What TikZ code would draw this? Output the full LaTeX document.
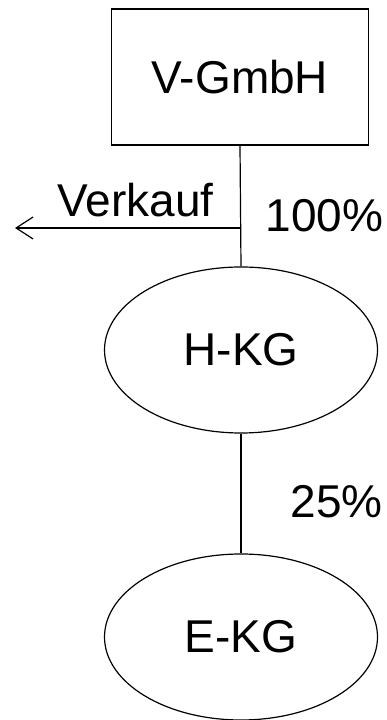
\documentclass[tikz,border=0pt]{standalone}
\usepackage{fontspec}
\setmainfont{Liberation Sans}
\usetikzlibrary{arrows.meta, shapes.geometric}

\begin{document}
\begin{tikzpicture}[x=1pt, y=1pt, line width=1.2pt, font=\fontsize{46}{50}\selectfont,
    firm/.style={draw, rectangle, minimum width=257pt, minimum height=136pt, inner sep=0pt},
    kg/.style={draw, ellipse, minimum width=273pt, minimum height=166pt, inner sep=0pt},
    pct/.style={anchor=base west, inner sep=0pt}]

    % 1. Rahmen
    \useasboundingbox (0,0) rectangle (387,720);

    % 2. Gesellschaften
    \node[firm] (vgmbh) at (240,643) {V-GmbH};
    \node[kg]   (hkg)   at (241,370) {H-KG};
    \node[kg]   (ekg)   at (241,83)  {E-KG};

    % 3. Beteiligungen
    \draw (vgmbh.south) -- (hkg.north);
    \draw (hkg.south) -- (ekg.north);
    \node[pct] (p100) at (265,488) {100\%};
    \node[pct] (p25)  at (290,202) {25\%};

    % 4. Verkauf der Beteiligung
    \coordinate (abzweig) at (vgmbh.south |- 0,492);
    \coordinate (links)   at (15,492);
    \draw[-{Straight Barb[length=17pt, width=22pt]}] (abzweig) -- (links);
    \node[pct] (verkauf) at (57,503) {Verkauf};

\end{tikzpicture}
\end{document}
